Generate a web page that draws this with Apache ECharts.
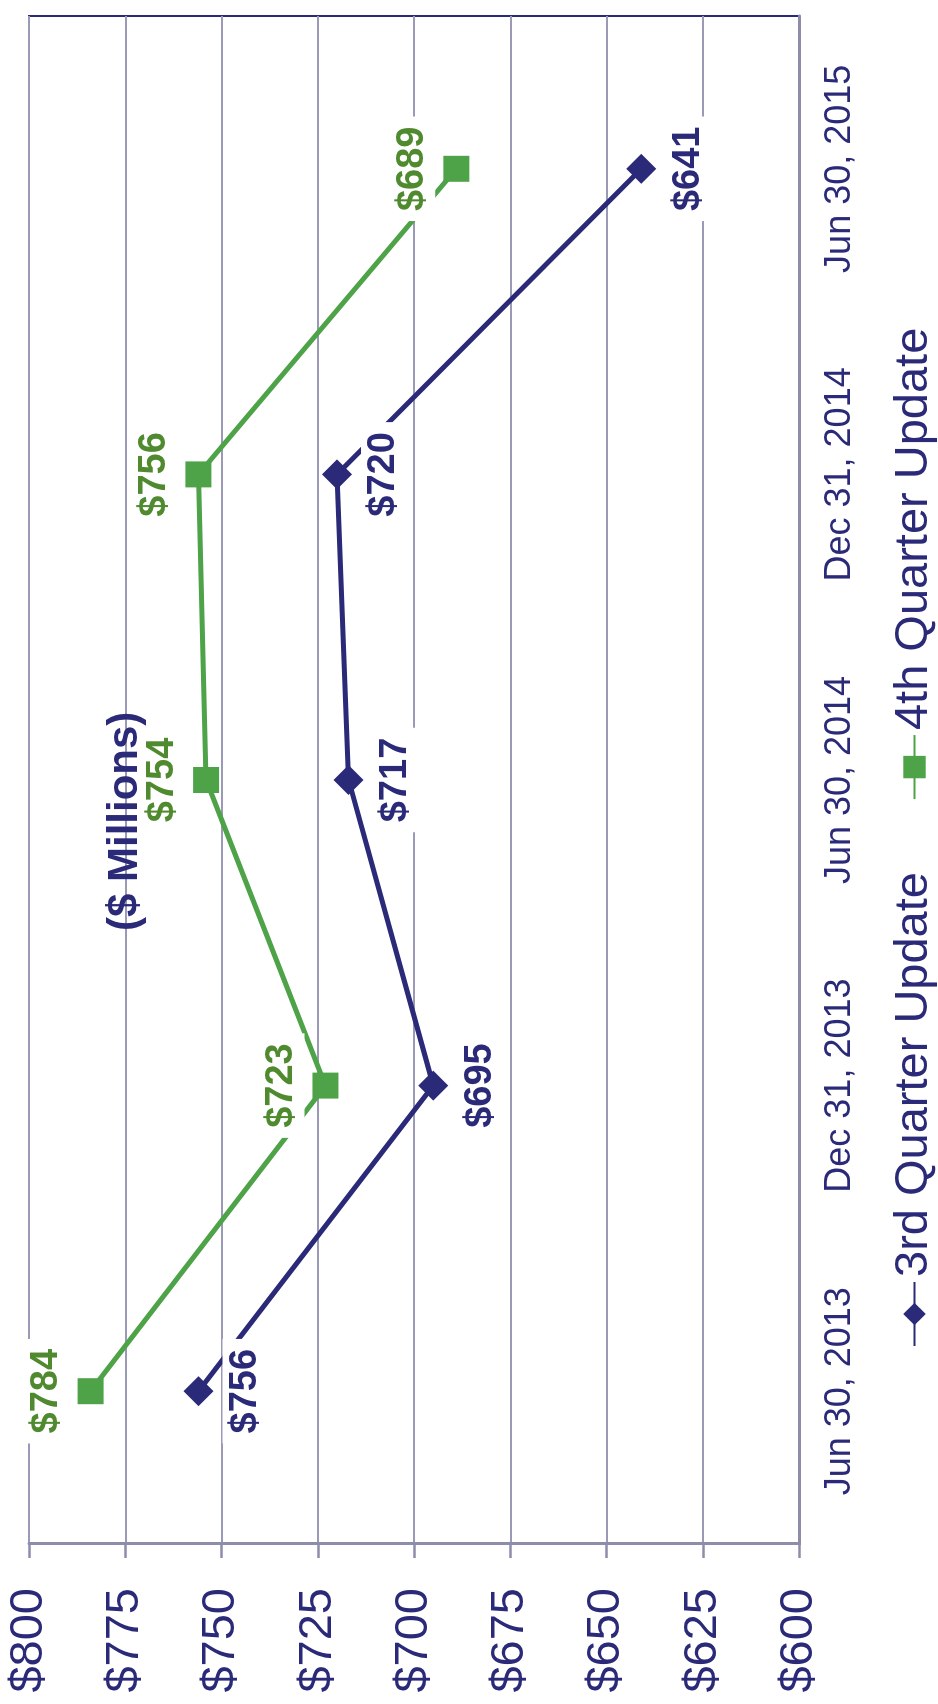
<!DOCTYPE html>
<html>
<head>
<meta charset="utf-8">
<script src="https://cdn.jsdelivr.net/npm/echarts@6/dist/echarts.min.js"></script>
<style>
  html, body { margin: 0; padding: 0; background: #ffffff; overflow: hidden; }
  body { width: 938px; height: 1704px; position: relative; }
  /* The chart is laid out landscape and turned a quarter turn to stand upright. */
  #chart {
    position: absolute; left: 0; top: 0;
    width: 1704px; height: 938px;
    transform-origin: 0 0;
    transform: translate(0px, 1704px) rotate(-90deg);
  }
</style>
</head>
<body>
<div id="chart"></div>
<script>
// Reporting dates on the category axis
const categories = ['Jun 30, 2013', 'Dec 31, 2013', 'Jun 30, 2014', 'Dec 31, 2014', 'Jun 30, 2015'];
// Estimates in $ millions
const thirdQuarterUpdate = [756, 695, 717, 720, 641];
const fourthQuarterUpdate = [784, 723, 754, 756, 689];
// Value axis range and step
const valueMin = 600;
const valueMax = 800;
const valueStep = 25;

const NAVY = '#2b2a78';
const GREEN = '#4ea247';
const GREEN_TEXT = '#4f8a2f';
const GRID_GRAY = '#9a9ab6';
const AXIS_GRAY = '#8d8daa';
const FONT = '"Liberation Sans", Arial, sans-serif';

const money = v => '$' + v;

const chart = echarts.init(document.getElementById('chart'), null, { width: 1704, height: 938, renderer: 'canvas' });

chart.setOption({
  backgroundColor: '#ffffff',
  animation: false,
  textStyle: { fontFamily: FONT },
  title: {
    text: '($ Millions)',
    left: 768,
    top: 99,
    textStyle: { fontFamily: FONT, fontSize: 42, fontWeight: 'bold', color: NAVY }
  },
  legend: {
    left: 352,
    top: 886,
    itemWidth: 64,
    itemHeight: 28,
    itemGap: 72,
    textStyle: { fontFamily: FONT, fontSize: 47, color: NAVY, padding: [0, 0, 0, 0] },
    data: ['3rd Quarter Update', '4th Quarter Update']
  },
  grid: {
    left: 160, right: 16, top: 29, bottom: 139,
    containLabel: false,
    show: true,
    borderColor: NAVY,
    borderWidth: 2,
    backgroundColor: 'transparent'
  },
  xAxis: {
    type: 'category',
    data: categories,
    boundaryGap: true,
    axisLine: { show: true, lineStyle: { color: AXIS_GRAY, width: 3 } },
    axisTick: { show: false },
    axisLabel: { fontFamily: FONT, fontSize: 36, color: NAVY, margin: 23, interval: 0 },
    splitLine: { show: false }
  },
  yAxis: {
    type: 'value',
    min: valueMin,
    max: valueMax,
    interval: valueStep,
    axisLine: { show: true, lineStyle: { color: AXIS_GRAY, width: 3 } },
    axisTick: { show: true, length: 14, lineStyle: { color: AXIS_GRAY, width: 2.5 } },
    axisLabel: { fontFamily: FONT, fontSize: 47, color: NAVY, margin: 44, formatter: money },
    splitLine: { show: true, lineStyle: { color: GRID_GRAY, width: 2 } }
  },
  series: [
    {
      name: '3rd Quarter Update',
      type: 'line',
      data: thirdQuarterUpdate,
      symbol: 'diamond',
      symbolSize: 30,
      lineStyle: { color: NAVY, width: 5 },
      itemStyle: { color: NAVY },
      label: {
        show: true,
        position: 'bottom',
        distance: 9,
        formatter: p => money(p.value),
        fontFamily: FONT,
        fontSize: 38,
        fontWeight: 'bold',
        color: NAVY,
        backgroundColor: '#ffffff',
        padding: [4, 10]
      },
      z: 3
    },
    {
      name: '4th Quarter Update',
      type: 'line',
      data: fourthQuarterUpdate,
      symbol: 'rect',
      symbolSize: 26,
      lineStyle: { color: GREEN, width: 5 },
      itemStyle: { color: GREEN },
      label: {
        show: true,
        position: 'top',
        distance: 8,
        formatter: p => money(p.value),
        fontFamily: FONT,
        fontSize: 38,
        fontWeight: 'bold',
        color: GREEN_TEXT,
        backgroundColor: '#ffffff',
        padding: [4, 10]
      },
      z: 3
    }
  ]
});
</script>
</body>
</html>
